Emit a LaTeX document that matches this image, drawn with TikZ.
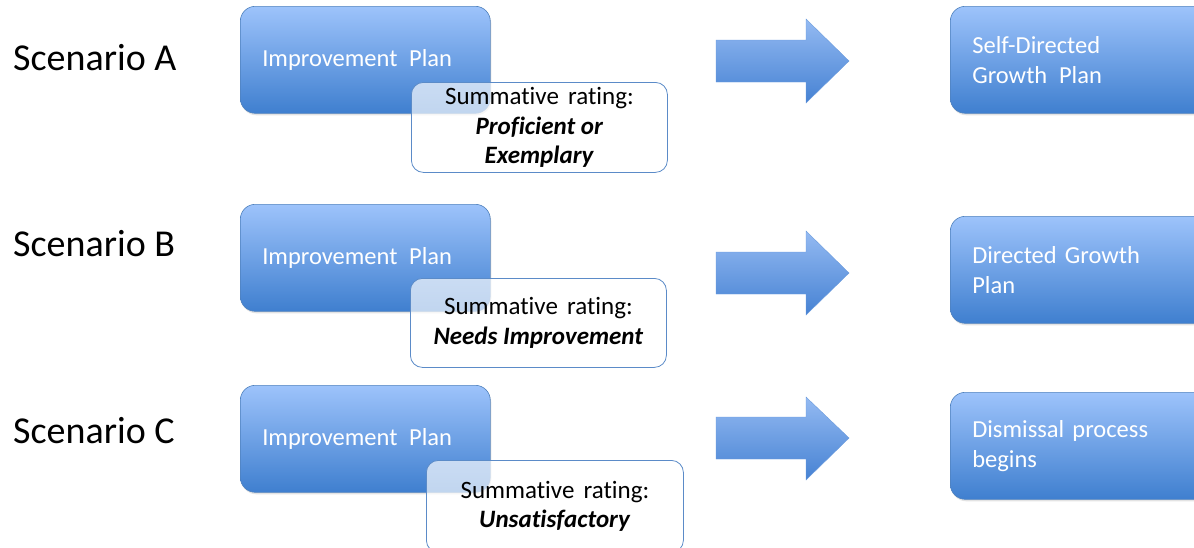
\documentclass[tikz,border=0pt]{standalone}
\usepackage{fontspec}
\setmainfont[Ligatures=NoCommon]{Carlito}
\usetikzlibrary{shadows}
\definecolor{bluetop}{HTML}{9DC3FB}
\definecolor{bluebot}{HTML}{3F7FCF}
\definecolor{blueedge}{HTML}{4F81BD}
\definecolor{arrtop}{HTML}{94BAF2}
\definecolor{arrbot}{HTML}{4682D3}
\definecolor{whiteedge}{HTML}{5B8BC8}
\newcommand{\wsp}{\kern3.5pt\ }
\begin{document}
\begin{tikzpicture}[x=1pt,y=-1pt,
  bluebox/.style={draw=blueedge, line width=0.6pt, rounded corners=15pt,
    top color=bluetop, bottom color=bluebot, anchor=north west,
    minimum width=#1, minimum height=107pt, text width=#1-44pt,
    inner xsep=21pt, align=left, text=white,
    font=\fontsize{24.5}{30}\selectfont,
    drop shadow={opacity=0.22, shadow xshift=1pt, shadow yshift=-2pt}},
  ratebox/.style={draw=whiteedge, line width=0.8pt, rounded corners=12pt,
    fill=white, fill opacity=0.68, text opacity=1, anchor=north west,
    minimum width=256pt, minimum height=90pt, align=center,
    font=\fontsize{25}{29.5}\selectfont},
  scen/.style={anchor=west, font=\fontsize{38}{40}\selectfont, inner sep=0pt},
  bigarrow/.style={draw=arrbot!80, line width=0.4pt, top color=arrtop, bottom color=arrbot}
]
\useasboundingbox (0,0) rectangle (1194,547);
\clip (0,0) rectangle (1194,547);

% Scenario labels
\node[scen] (sa) at (13,58) {Scenario A};
\node[scen] (sb) at (13,244) {Scenario B};
\node[scen] (sc) at (13,431) {Scenario C};

% Improvement plan boxes
\node[bluebox=250pt] (ipa) at (240,6) {Improvement\wsp Plan};
\node[bluebox=250pt] (ipb) at (240,204) {Improvement\wsp Plan};
\node[bluebox=250pt] (ipc) at (240,385) {Improvement\wsp Plan};

% Rating boxes
\node[ratebox] (ra) at (411,82) {Summative\wsp rating:\\\textbf{\textit{Proficient or}}\\\textbf{\textit{Exemplary}}};
\node[ratebox, minimum height=89pt] (rb) at (410,278) {Summative\wsp rating:\\\textbf{\textit{Needs Improvement}}};
\node[ratebox, minimum width=257pt, minimum height=92pt] (rc) at (426,460) {Summative\wsp rating:\\\textbf{\textit{Unsatisfactory}}};

% Arrows
\path[bigarrow] (716,40) -- (806,40) -- (806,19) -- (849,61) -- (806,103) -- (806,82) -- (716,82) -- cycle;
\path[bigarrow] (716,252) -- (806,252) -- (806,231) -- (849,273) -- (806,315) -- (806,294) -- (716,294) -- cycle;
\path[bigarrow] (716,417) -- (806,417) -- (806,397) -- (849,438) -- (806,480) -- (806,459) -- (716,459) -- cycle;

% Outcome boxes
\node[bluebox=262pt] (oa) at (950,6) {Self-Directed\\Growth\wsp Plan};
\node[bluebox=262pt] (ob) at (950,216) {Directed Growth\\Plan};
\node[bluebox=262pt] (oc) at (950,392) {Dismissal process\\begins};
\end{tikzpicture}
\end{document}
